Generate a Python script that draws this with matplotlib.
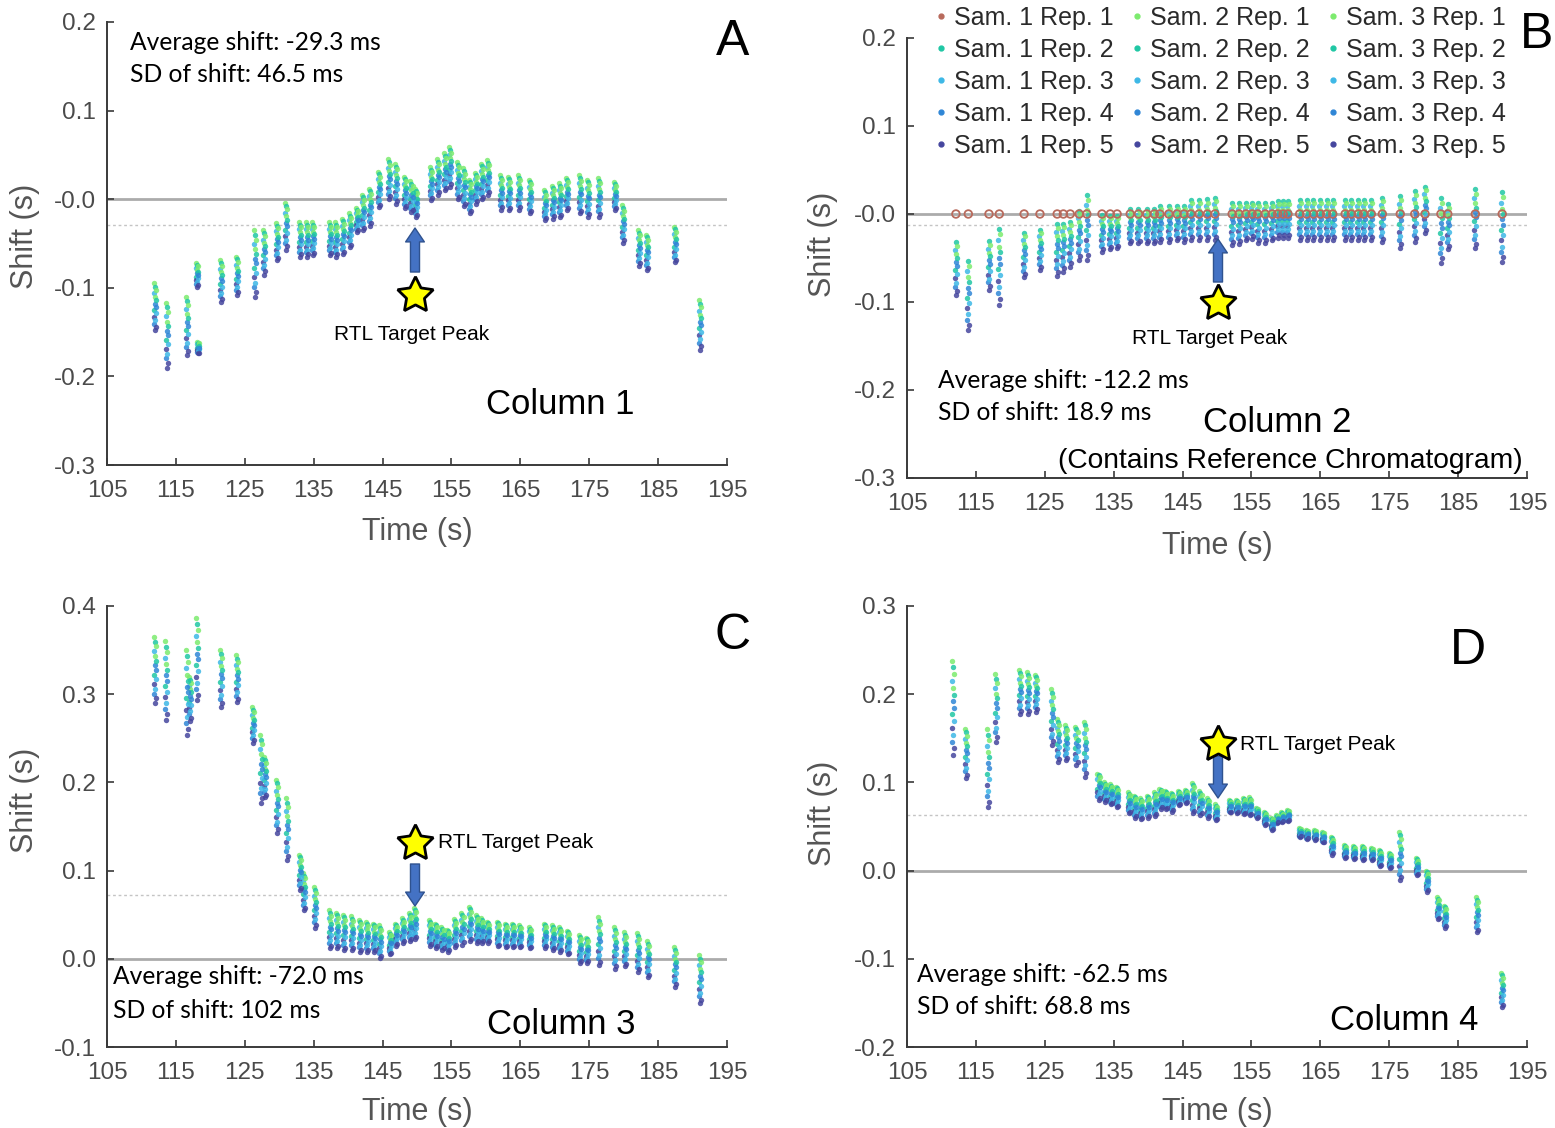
import numpy as np
import matplotlib
matplotlib.use("Agg")
import matplotlib.pyplot as plt
from matplotlib.lines import Line2D
from matplotlib.patches import FancyArrowPatch

W, H = 1555, 1128

# ---------------- data ----------------
samples = [1, 2, 3]
reps = [1, 2, 3, 4, 5]
rep_colors = ["#7CEB6E", "#1FC7A4", "#3DB8E6", "#2F86D6", "#45469E"]
ref_color = "#B86A5C"
# where each (sample, replicate) sits inside a peak's low..high shift range
series_frac = {1: [1.00, 0.43, 0.79, 0.14, 0.29],
               2: [0.71, 0.93, 0.21, 0.57, 0.00],
               3: [0.86, 0.64, 0.36, 0.50, 0.07]}
# small retention-time difference between samples (s)
sample_dt = {1: -0.15, 2: 0.0, 3: 0.15}

x_ticks = [105, 115, 125, 135, 145, 155, 165, 175, 185, 195]

# Column 1 (A)
a_times = [111.9, 113.7, 116.6, 118.1, 118.2, 121.6, 123.9, 126.5, 127.8, 129.7, 131.0, 133.0, 134.0, 134.9,
           137.4, 138.3, 139.2, 140.3, 141.3, 142.2, 143.2, 144.5, 146.0, 147.0, 148.3, 149.2, 149.8,
           152.0, 153.0, 154.0, 154.8, 155.9, 156.8, 157.7, 158.5, 159.4, 160.3, 162.2, 163.3, 164.8,
           166.4, 168.6, 169.7, 170.8, 171.8, 173.7, 174.8, 176.4, 178.7, 179.9, 182.2, 183.4, 187.4, 191.1]
a_low = [-0.148, -0.190, -0.176, -0.099, -0.174, -0.116, -0.108, -0.110, -0.085, -0.069, -0.057, -0.065, -0.065, -0.063,
         -0.063, -0.065, -0.062, -0.054, -0.037, -0.035, -0.030, -0.009, 0.000, -0.005, -0.010, -0.015, -0.020,
         -0.001, 0.005, 0.010, 0.014, 0.000, -0.008, -0.016, -0.005, 0.000, 0.005, -0.012, -0.012, -0.012,
         -0.016, -0.024, -0.022, -0.020, -0.012, -0.016, -0.020, -0.020, -0.012, -0.049, -0.075, -0.080, -0.071, -0.170]
a_high = [-0.095, -0.117, -0.110, -0.072, -0.161, -0.069, -0.065, -0.035, -0.035, -0.027, -0.004, -0.026, -0.026, -0.026,
          -0.026, -0.026, -0.022, -0.016, -0.010, 0.005, 0.012, 0.031, 0.045, 0.040, 0.025, 0.020, 0.012,
          0.036, 0.045, 0.052, 0.059, 0.042, 0.035, 0.022, 0.030, 0.040, 0.044, 0.027, 0.025, 0.027,
          0.022, 0.010, 0.015, 0.018, 0.024, 0.027, 0.022, 0.024, 0.019, -0.007, -0.035, -0.040, -0.031, -0.114]

# Column 2 (B, contains the reference chromatogram)
b_times = [112.1, 113.9, 116.9, 118.4, 122.0, 124.3, 126.8, 127.7, 128.7, 130.0, 131.1, 133.3, 134.5, 135.5,
           137.4, 138.6, 139.8, 140.9, 141.7, 143.0, 144.2, 145.2, 146.2, 147.4, 148.6, 149.7,
           152.2, 153.2, 154.2, 155.1, 155.9, 157.0, 158.0, 158.8, 159.6, 160.3, 162.0, 163.0, 164.0,
           165.0, 165.9, 166.8, 168.6, 169.5, 170.5, 171.3, 172.4, 174.0, 176.6, 178.7, 180.2, 182.5,
           183.5, 187.5, 191.4]
b_low = [-0.092, -0.132, -0.086, -0.103, -0.072, -0.064, -0.070, -0.066, -0.060, -0.052, -0.052, -0.043, -0.040, -0.039,
         -0.033, -0.033, -0.033, -0.033, -0.032, -0.032, -0.030, -0.032, -0.030, -0.030, -0.030, -0.030,
         -0.035, -0.034, -0.030, -0.028, -0.033, -0.033, -0.030, -0.027, -0.027, -0.027, -0.030, -0.030, -0.030,
         -0.030, -0.030, -0.030, -0.030, -0.030, -0.030, -0.030, -0.030, -0.032, -0.039, -0.032, -0.022, -0.056,
         -0.040, -0.039, -0.055]
b_high = [-0.027, -0.047, -0.027, -0.010, -0.018, -0.015, -0.007, -0.007, -0.005, 0.008, 0.027, 0.002, 0.001, 0.001,
          0.008, 0.008, 0.008, 0.008, 0.012, 0.012, 0.012, 0.012, 0.019, 0.019, 0.020, 0.022,
          0.016, 0.016, 0.016, 0.016, 0.016, 0.016, 0.016, 0.018, 0.018, 0.018, 0.019, 0.019, 0.019,
          0.019, 0.019, 0.019, 0.019, 0.019, 0.019, 0.019, 0.019, 0.022, 0.025, 0.030, 0.035, 0.024,
          0.015, 0.033, 0.031]

# Column 3 (C)
c_times = [111.9, 113.6, 116.6, 117.1, 118.1, 121.6, 123.9, 126.2, 127.4, 128.0, 129.7, 131.1, 133.0, 133.6, 135.2,
           137.4, 138.4, 139.4, 140.5, 141.7, 142.7, 143.8, 144.6, 146.1, 147.0, 148.0, 149.0, 149.7,
           151.9, 152.8, 153.7, 154.5, 155.5, 156.6, 157.7, 158.7, 159.5, 160.3, 161.8, 162.9, 164.0,
           165.0, 166.4, 168.6, 169.7, 170.8, 171.9, 173.7, 174.7, 176.4, 178.7, 180.2, 182.1, 183.5,
           187.4, 191.1]
c_low = [0.290, 0.271, 0.254, 0.270, 0.293, 0.286, 0.291, 0.245, 0.177, 0.183, 0.143, 0.112, 0.078, 0.055, 0.035,
         0.012, 0.012, 0.010, 0.010, 0.008, 0.008, 0.008, 0.001, 0.005, 0.015, 0.018, 0.020, 0.022,
         0.015, 0.012, 0.010, 0.008, 0.013, 0.016, 0.020, 0.018, 0.018, 0.018, 0.014, 0.013, 0.013,
         0.013, 0.012, 0.012, 0.010, 0.008, 0.005, -0.005, -0.005, -0.007, -0.011, -0.008, -0.015, -0.021,
         -0.032, -0.050]
c_high = [0.365, 0.360, 0.350, 0.320, 0.386, 0.350, 0.344, 0.285, 0.254, 0.229, 0.203, 0.182, 0.118, 0.097, 0.081,
          0.055, 0.052, 0.050, 0.048, 0.044, 0.042, 0.040, 0.038, 0.030, 0.040, 0.046, 0.052, 0.058,
          0.044, 0.040, 0.036, 0.033, 0.045, 0.052, 0.059, 0.050, 0.046, 0.042, 0.042, 0.040, 0.040,
          0.038, 0.036, 0.040, 0.038, 0.036, 0.032, 0.027, 0.024, 0.047, 0.036, 0.030, 0.029, 0.020,
          0.013, 0.004]

# Column 4 (D)
d_times = [111.7, 113.5, 116.7, 117.9, 121.4, 122.5, 123.7, 126.1, 126.9, 128.1, 129.6, 130.8, 132.8, 133.7, 134.6,
           135.5, 137.2, 138.1, 139.0, 140.0, 141.0, 141.8, 142.6, 143.4, 144.5, 145.5, 146.5, 147.6, 148.7,
           149.8, 151.9, 152.9, 153.9, 154.8, 155.8, 156.9, 158.0, 158.7, 159.5, 160.3, 162.0, 163.1, 164.2,
           165.4, 166.7, 168.6, 169.9, 171.2, 172.5, 173.7, 175.1, 176.6, 179.0, 180.5, 182.1, 183.1, 187.7,
           191.4]
d_low = [0.131, 0.105, 0.072, 0.146, 0.178, 0.178, 0.180, 0.142, 0.123, 0.125, 0.120, 0.106, 0.080, 0.078, 0.075,
         0.072, 0.065, 0.060, 0.058, 0.060, 0.062, 0.070, 0.070, 0.067, 0.074, 0.077, 0.065, 0.063, 0.060,
         0.057, 0.066, 0.065, 0.064, 0.063, 0.060, 0.052, 0.046, 0.054, 0.055, 0.056, 0.038, 0.036, 0.035,
         0.032, 0.018, 0.014, 0.013, 0.012, 0.012, 0.005, 0.003, -0.011, -0.005, -0.024, -0.055, -0.065, -0.070,
         -0.155]
d_high = [0.238, 0.161, 0.160, 0.223, 0.227, 0.225, 0.222, 0.206, 0.172, 0.165, 0.163, 0.169, 0.110, 0.100, 0.098,
          0.095, 0.089, 0.085, 0.082, 0.085, 0.089, 0.093, 0.090, 0.088, 0.090, 0.091, 0.099, 0.090, 0.082,
          0.075, 0.080, 0.080, 0.082, 0.083, 0.071, 0.066, 0.060, 0.063, 0.066, 0.069, 0.048, 0.046, 0.046,
          0.044, 0.038, 0.029, 0.028, 0.028, 0.026, 0.023, 0.020, 0.044, 0.014, 0.000, -0.030, -0.040, -0.030,
          -0.116]

panels = ["A", "B", "C", "D"]
columns = ["Column 1", "Column 2", "Column 3", "Column 4"]
avg_shift_ms = ["-29.3", "-12.2", "-72.0", "-62.5"]
sd_shift_ms = ["46.5", "18.9", "102", "68.8"]
mean_lines = [-0.0293, -0.0122, 0.0720, 0.0625]
y_limits = [(-0.3, 0.2), (-0.3, 0.2), (-0.1, 0.4), (-0.2, 0.3)]
y_tick_vals = [[-0.3, -0.2, -0.1, 0.0, 0.1, 0.2], [-0.3, -0.2, -0.1, 0.0, 0.1, 0.2],
               [-0.1, 0.0, 0.1, 0.2, 0.3, 0.4], [-0.2, -0.1, 0.0, 0.1, 0.2, 0.3]]
y_tick_labels = [["-0.3", "-0.2", "-0.1", "-0.0", "0.1", "0.2"], ["-0.3", "-0.2", "-0.1", "-0.0", "0.1", "0.2"],
                 ["-0.1", "0.0", "0.1", "0.2", "0.3", "0.4"], ["-0.2", "-0.1", "0.0", "0.1", "0.2", "0.3"]]

# ---------------- figure ----------------
plt.rcParams["font.family"] = ["Liberation Sans", "DejaVu Sans"]
fig = plt.figure(figsize=(W / 100, H / 100), dpi=100)


def rect(l, t, r, b):
    return [l / W, 1 - b / H, (r - l) / W, (b - t) / H]


ax_rects = [rect(107, 22, 727, 465), rect(907, 38, 1527, 478),
            rect(107, 606, 727, 1047), rect(907, 606, 1527, 1047)]
data = [(a_times, a_low, a_high), (b_times, b_low, b_high),
        (c_times, c_low, c_high), (d_times, d_low, d_high)]
xlabel_y = [-0.151, -0.155, -0.147, -0.147]
ylabel_pos = [(-0.132, 0.515), (-0.135, 0.53), (-0.132, 0.56), (-0.135, 0.53)]

axes = []
for i in range(4):
    ax = fig.add_axes(ax_rects[i])
    axes.append(ax)
    t = np.asarray(data[i][0])
    lo = np.asarray(data[i][1])
    hi = np.asarray(data[i][2])
    ref = (i == 1)
    ax.axhline(0, color="#ababab", lw=2.0, zorder=1)
    ax.axhline(mean_lines[i], color="#c4c4c4", lw=1.0, ls=(0, (2, 2)), zorder=1)
    for s in samples:
        for ri, r in enumerate(reps):
            if ref and s == 1 and r == 1:
                continue
            y = lo + series_frac[s][ri] * (hi - lo)
            ax.scatter(t + sample_dt[s], y, s=15, color=rep_colors[ri], lw=0, alpha=0.85, zorder=3)
    if ref:
        ax.scatter(t, np.zeros_like(t), s=30, facecolors="none", edgecolors=ref_color, lw=1.3, zorder=4)

    ax.set_xlim(105, 195)
    ax.set_ylim(*y_limits[i])
    ax.set_xticks(x_ticks)
    ax.set_xticklabels([str(v) for v in x_ticks])
    ax.set_yticks(y_tick_vals[i])
    ax.set_yticklabels(y_tick_labels[i])
    for sp in ["top", "right"]:
        ax.spines[sp].set_visible(False)
    for sp in ["left", "bottom"]:
        ax.spines[sp].set_color("#3a3a3a")
        ax.spines[sp].set_linewidth(1.4)
    ax.tick_params(direction="in", length=5, width=1.2, color="#3a3a3a",
                   labelsize=17.5, labelcolor="#4a4a4a")
    ax.tick_params(axis="x", pad=11)
    ax.tick_params(axis="y", pad=8)
    ax.set_xlabel("Time (s)", fontsize=22, color="#555555", va="center")
    ax.xaxis.set_label_coords(0.5, xlabel_y[i])
    ax.set_ylabel("Shift (s)", fontsize=22, color="#555555", va="center")
    ax.yaxis.set_label_coords(*ylabel_pos[i])
    ax.patch.set_alpha(0)

# legend in B
handles, labels = [], []
for s in samples:
    for ri, r in enumerate(reps):
        c = ref_color if (s == 1 and r == 1) else rep_colors[ri]
        handles.append(Line2D([], [], marker="o", ls="", color=c, markersize=3.5))
        labels.append(f"Sam. {s} Rep. {r}")
leg = axes[1].legend(handles, labels, ncol=3, loc="upper left",
                     bbox_to_anchor=(936 / W, 1 - 6 / H), bbox_transform=fig.transFigure,
                     frameon=False, fontsize=18, handlelength=0.4, handletextpad=0.3,
                     columnspacing=0.75, labelspacing=0.32, borderpad=0, borderaxespad=0)
for txt in leg.get_texts():
    txt.set_color("#2a2a2a")


# ---------------- annotations (figure pixel coordinates) ----------------
def ftext(x, y, s, **kw):
    fig.text(x / W, 1 - y / H, s, **kw)


calib = ["Lato", "DejaVu Sans"]
stat_pos = [(130, 42, 74), (938, 381, 413), (113, 977, 1010), (917, 975, 1007)]
letter_pos = [(733, 42), (1537, 35), (733, 636), (1468, 651)]
col_pos = [(560, 404), (1277, 423), (561, 1025), (1404, 1021)]
for i in range(4):
    x0, y1, y2 = stat_pos[i]
    ftext(x0, y1, f"Average shift: {avg_shift_ms[i]} ms", fontsize=17.7, family=calib, ha="left", va="center")
    ftext(x0, y2, f"SD of shift: {sd_shift_ms[i]} ms", fontsize=17.7, family=calib, ha="left", va="center")
    ftext(*letter_pos[i], panels[i], fontsize=36, ha="center", va="center")
    ftext(*col_pos[i], columns[i], fontsize=25, ha="center", va="center")
ftext(1290, 461, "(Contains Reference Chromatogram)", fontsize=20.3, ha="center", va="center")

star_pos = [(415, 295), (1218, 303), (415, 843), (1218, 744)]
arrows = [((415, 272), (415, 228)), ((1218, 282), (1218, 239)),
          ((415, 864), (415, 906)), ((1218, 756), (1218, 798))]
rtl_pos = [(412, 335, "center"), (1210, 339, "center"), (438, 843, "left"), (1240, 744, "left")]
for i in range(4):
    (tx, ty), (hx, hy) = arrows[i]
    arr = FancyArrowPatch((tx / W, 1 - ty / H), (hx / W, 1 - hy / H), transform=fig.transFigure,
                          arrowstyle="simple,head_length=1.0,head_width=1.35,tail_width=0.65",
                          mutation_scale=10, fc="#4472C4", ec="#2F528F", lw=1.0,
                          shrinkA=0, shrinkB=0, zorder=6)
    fig.add_artist(arr)
    sx, sy = star_pos[i]
    fig.add_artist(Line2D([sx / W], [1 - sy / H], transform=fig.transFigure, marker=(5, 1, 0),
                          markersize=27, markerfacecolor="#FFFF00", markeredgecolor="black",
                          markeredgewidth=2.0, ls="", zorder=7))
    rx, ry, ha = rtl_pos[i]
    ftext(rx, ry, "RTL Target Peak", fontsize=15, ha=ha, va="center")

fig.savefig("out.png", dpi=100)
